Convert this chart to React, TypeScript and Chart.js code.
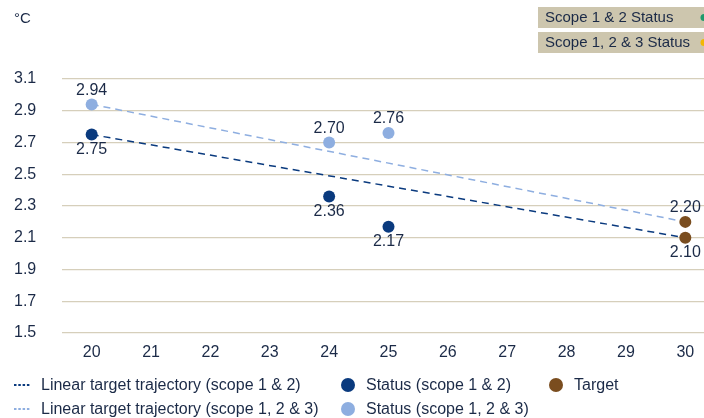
import React, { useEffect, useRef } from "react";
import { Chart, registerables } from "chart.js";

Chart.register(...registerables);

const years = [20, 21, 22, 23, 24, 25, 26, 27, 28, 29, 30];
const yTicks = [1.5, 1.7, 1.9, 2.1, 2.3, 2.5, 2.7, 2.9, 3.1];

const trajScope12 = [
  { x: 20, y: 2.75 },
  { x: 30, y: 2.1 },
];
const trajScope123 = [
  { x: 20, y: 2.94 },
  { x: 30, y: 2.2 },
];
const statusScope12 = [
  { x: 20, y: 2.75 },
  { x: 24, y: 2.36 },
  { x: 25, y: 2.17 },
];
const statusScope123 = [
  { x: 20, y: 2.94 },
  { x: 24, y: 2.7 },
  { x: 25, y: 2.76 },
];
const targetPoints = [
  { x: 30, y: 2.2 },
  { x: 30, y: 2.1 },
];
// label position per point: "above" or "below"
const statusScope12Pos = ["below", "below", "below"];
const statusScope123Pos = ["above", "above", "above"];
const targetPos = ["above", "below"];

const legendItems = [
  { label: "Linear target trajectory (scope 1 & 2)", kind: "line", color: "#0a3a7e" },
  { label: "Status (scope 1 & 2)", kind: "dot", color: "#0a3a7e" },
  { label: "Target", kind: "dot", color: "#7a4d1f" },
  { label: "Linear target trajectory (scope 1, 2 & 3)", kind: "line", color: "#8eaee0" },
  { label: "Status (scope 1, 2 & 3)", kind: "dot", color: "#8eaee0" },
];
const statusBoxes = [
  { label: "Scope 1 & 2 Status", color: "#1f9a6c" },
  { label: "Scope 1, 2 & 3 Status", color: "#f2b705" },
];

const NAVY = "#0a3a7e";
const LIGHT = "#8eaee0";
const BROWN = "#7a4d1f";
const TEXT = "#1b2a47";
const GRID = "#d6cfbb";
const FONT = "'Liberation Sans', Arial, sans-serif";

const overlayPlugin = {
  id: "overlay",
  afterDatasetsDraw(chart: any) {
    const ctx = chart.ctx;
    const xs = chart.scales.x;
    const ys = chart.scales.y;
    ctx.save();
    ctx.fillStyle = TEXT;
    ctx.font = `16px ${FONT}`;
    ctx.textAlign = "center";
    ctx.textBaseline = "middle";
    const drawLabels = (pts: any[], pos: string[]) => {
      pts.forEach((p, i) => {
        const px = xs.getPixelForValue(p.x);
        const py = ys.getPixelForValue(p.y);
        const dy = pos[i] === "above" ? -14 : 15;
        ctx.fillText(p.y.toFixed(2), px, py + dy);
      });
    };
    drawLabels(statusScope12, statusScope12Pos);
    drawLabels(statusScope123, statusScope123Pos);
    drawLabels(targetPoints, targetPos);

    // unit
    ctx.textAlign = "left";
    ctx.font = `15px ${FONT}`;
    ctx.fillText("°C", 14, 19);

    // status boxes
    statusBoxes.forEach((b, i) => {
      const y = 7 + i * 25;
      ctx.fillStyle = "#cdc6ae";
      ctx.fillRect(538, y, 190, 21);
      ctx.fillStyle = TEXT;
      ctx.font = `15px ${FONT}`;
      ctx.textAlign = "left";
      ctx.fillText(b.label, 545, y + 11);
      ctx.fillStyle = b.color;
      ctx.beginPath();
      ctx.arc(704, y + 10.5, 3.5, 0, Math.PI * 2);
      ctx.fill();
    });

    // legend
    const cols = [14, 348, 556];
    const rows = [385, 409];
    const place = [
      [0, 0],
      [1, 0],
      [2, 0],
      [0, 1],
      [1, 1],
    ];
    legendItems.forEach((it, i) => {
      const [c, r] = place[i];
      const x = cols[c];
      const y = rows[r];
      let tx = x;
      if (it.kind === "line") {
        ctx.strokeStyle = it.color;
        ctx.lineWidth = 2;
        ctx.setLineDash([2.5, 1.8]);
        ctx.beginPath();
        ctx.moveTo(x, y);
        ctx.lineTo(x + 16, y);
        ctx.stroke();
        ctx.setLineDash([]);
        tx = 41;
      } else {
        ctx.fillStyle = it.color;
        ctx.beginPath();
        ctx.arc(x, y, 7, 0, Math.PI * 2);
        ctx.fill();
        tx = x + 18;
      }
      ctx.fillStyle = TEXT;
      ctx.font = `16px ${FONT}`;
      ctx.textAlign = "left";
      ctx.fillText(it.label, tx, y + 1);
    });
    ctx.restore();
  },
};

export default function App() {
  const ref = useRef<HTMLCanvasElement | null>(null);
  useEffect(() => {
    if (!ref.current) return;
    const chart = new Chart(ref.current, {
      type: "scatter",
      data: {
        datasets: [
          {
            label: "Linear target trajectory (scope 1 & 2)",
            data: trajScope12,
            showLine: true,
            borderColor: NAVY,
            borderWidth: 1.5,
            borderDash: [7, 5],
            pointRadius: 0,
            order: 3,
          },
          {
            label: "Linear target trajectory (scope 1, 2 & 3)",
            data: trajScope123,
            showLine: true,
            borderColor: LIGHT,
            borderWidth: 1.5,
            borderDash: [7, 5],
            pointRadius: 0,
            order: 3,
          },
          {
            label: "Status (scope 1 & 2)",
            data: statusScope12,
            backgroundColor: NAVY,
            borderWidth: 0,
            pointRadius: 6,
            order: 1,
          },
          {
            label: "Status (scope 1, 2 & 3)",
            data: statusScope123,
            backgroundColor: LIGHT,
            borderWidth: 0,
            pointRadius: 6,
            order: 1,
          },
          {
            label: "Target",
            data: targetPoints,
            backgroundColor: BROWN,
            borderWidth: 0,
            pointRadius: 6,
            order: 1,
          },
        ],
      },
      options: {
        animation: false,
        responsive: false,
        layout: { padding: { left: 14, top: 79, right: 0, bottom: 0 } },
        plugins: { legend: { display: false }, tooltip: { enabled: false } },
        scales: {
          x: {
            type: "linear",
            min: 19.5,
            max: 30.5,
            afterBuildTicks: (s: any) => {
              s.ticks = years.map((v) => ({ value: v }));
            },
            afterFit: (s: any) => {
              s.height = 85;
            },
            grid: { display: false, drawTicks: false },
            border: { display: false },
            ticks: {
              color: TEXT,
              font: { family: FONT, size: 16 },
              padding: 10,
              callback: (v: any) => String(v),
            },
          },
          y: {
            type: "linear",
            min: 1.5,
            max: 3.1,
            afterBuildTicks: (s: any) => {
              s.ticks = yTicks.map((v) => ({ value: v }));
            },
            afterFit: (s: any) => {
              s.width = 48;
            },
            grid: { color: GRID, lineWidth: 1.2, drawTicks: false },
            border: { display: false },
            ticks: {
              color: TEXT,
              font: { family: FONT, size: 16 },
              crossAlign: "far",
              padding: 0,
              callback: (v: any) => Number(v).toFixed(1),
            },
          },
        },
      },
      plugins: [overlayPlugin],
    });
    return () => chart.destroy();
  }, []);
  return (
    <div
      style={{
        position: "fixed",
        left: 0,
        top: 0,
        width: 704,
        height: 418,
        overflow: "hidden",
        background: "#fff",
      }}
    >
      <canvas ref={ref} width={721} height={418} style={{ display: "block" }} />
    </div>
  );
}
